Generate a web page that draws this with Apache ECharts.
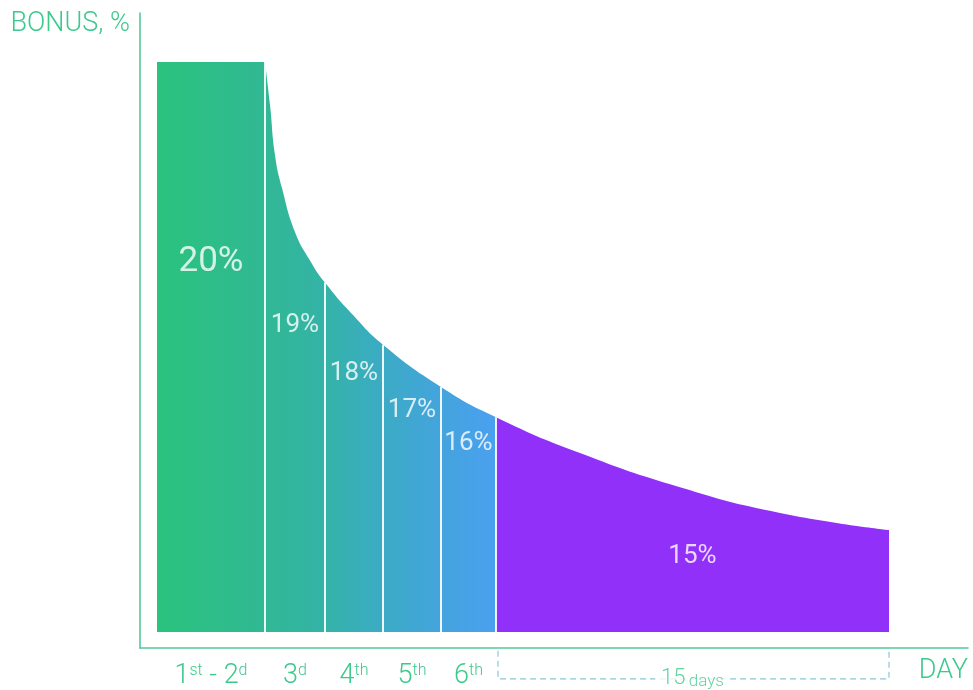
<!DOCTYPE html>
<html><head><meta charset="utf-8">
<script src="https://cdn.jsdelivr.net/npm/echarts@6/dist/echarts.min.js"></script>
<style>html,body{margin:0;padding:0;background:#fff}#c{width:973px;height:690px}</style>
</head><body><div id="c"></div>
<script>
// ---- data ----
const dayLabels = ['{n|1}{s|st}{n| - 2}{s|d}', '{n|3}{s|d}', '{n|4}{s|th}', '{n|5}{s|th}', '{n|6}{s|th}'];
const bonusLabels = ['20%', '19%', '18%', '17%', '16%', '15%'];
const segmentEdges = [17, 125, 185, 243, 301, 356, 749];           // position axis units
const firstBlockHeight = 100;
const curveX = [125, 130, 135, 142, 155, 170, 185, 213, 243, 301, 356, 440, 540, 640, 749];
const curveY = [100, 92.5, 83.7, 77.9, 70.2, 65.2, 61.3, 55.6, 50.4, 43.0, 37.7, 31.4, 25.4, 20.9, 17.9];
const bonusLabelY = [64.8, 53.7, 45.3, 38.8, 33.0, 13.2];
const edgeColors = ['#2ac37d', '#31b894', '#34b3a8', '#3babc5', '#44a4dd', '#4aa0ef'];
const lastColor = '#9130f9';
const spanText = ['15', 'days'];
const axisNameY = 'BONUS, %';
const axisNameX = 'DAY';

// ---- build ----
const green = '#3cc98c';
const axisColor = '#55c99a';
const font = 'Roboto, "Noto Sans", sans-serif';
const e0 = segmentEdges[1], eN = segmentEdges[segmentEdges.length - 1];
const centers = [];
for (let i = 0; i < segmentEdges.length - 1; i++) centers.push((segmentEdges[i] + segmentEdges[i + 1]) / 2);

const stops = [];
for (let i = 1; i <= 5; i++) stops.push({ offset: (segmentEdges[i] - e0) / (eN - e0), color: edgeColors[i] });
stops.push({ offset: (segmentEdges[5] - e0) / (eN - e0), color: lastColor });
stops.push({ offset: 1, color: lastColor });

const separators = [];
for (let i = 1; i <= 5; i++) {
  const idx = curveX.indexOf(segmentEdges[i]);
  separators.push([segmentEdges[i], curveY[idx]]);
}

const bracketTop = -3.3, bracketBottom = -8.2;

const option = {
  animation: false,
  title: {
    text: axisNameX, right: 5, top: 658, padding: 0,
    textStyle: { color: green, fontSize: 27, fontFamily: font, fontWeight: 300 }
  },
  grid: { left: 140, right: 5, top: 13, bottom: 42 },
  xAxis: {
    type: 'value', min: 0, max: 828,
    axisLine: { show: true, onZero: false, lineStyle: { color: axisColor, width: 1.6 } },
    axisTick: { show: false }, splitLine: { show: false },
    axisLabel: {
      show: true, customValues: centers.slice(0, 5), margin: 15,
      formatter: function (v) {
        const i = centers.findIndex(c => Math.abs(c - v) < 0.01);
        return i >= 0 ? dayLabels[i] : '';
      },
      rich: {
        n: { fontSize: 27, color: green, fontFamily: font, fontWeight: 300 },
        s: { fontSize: 16, color: green, fontFamily: font, fontWeight: 300, verticalAlign: 'top' }
      }
    }
  },
  yAxis: {
    type: 'value', min: -2.8, max: 108.6,
    axisLine: { show: true, onZero: false, lineStyle: { color: axisColor, width: 1.6 } },
    axisTick: { show: false }, axisLabel: { show: false }, splitLine: { show: false },
    name: axisNameY, nameLocation: 'end', nameGap: 2,
    nameTextStyle: { color: green, fontSize: 27, fontFamily: font, fontWeight: 300, align: 'right', verticalAlign: 'top', padding: [0, 10, 0, 0] }
  },
  series: [
    {
      type: 'line', silent: true, showSymbol: false, symbol: 'none', z: 2,
      data: [[segmentEdges[0], firstBlockHeight], [segmentEdges[1], firstBlockHeight]],
      lineStyle: { width: 0 },
      areaStyle: { opacity: 1, origin: 'auto', color: new echarts.graphic.LinearGradient(0, 0, 1, 0, [{ offset: 0, color: edgeColors[0] }, { offset: 1, color: edgeColors[1] }]) }
    },
    {
      type: 'line', silent: true, showSymbol: false, symbol: 'none', smooth: 0.5, z: 2,
      data: curveX.map((x, i) => [x, curveY[i]]),
      lineStyle: { width: 0 },
      areaStyle: { opacity: 1, origin: 'auto', color: new echarts.graphic.LinearGradient(0, 0, 1, 0, stops) }
    },
    {
      type: 'custom', silent: true, z: 10,
      data: separators,
      renderItem: function (params, api) {
        const p0 = api.coord([api.value(0), 0]);
        const p1 = api.coord([api.value(0), api.value(1)]);
        return { type: 'line', shape: { x1: p0[0], y1: p0[1], x2: p1[0], y2: p1[1] }, style: { stroke: '#ffffff', lineWidth: 1.8 } };
      }
    },
    {
      type: 'scatter', silent: true, symbolSize: 0, z: 11,
      data: centers.map((c, i) => ({
        value: [c, bonusLabelY[i]],
        label: { show: true, position: 'inside', formatter: bonusLabels[i], color: '#fff', fontFamily: font, fontWeight: 'normal', fontSize: i === 0 ? 35 : 26 }
      }))
    },
    {
      type: 'line', silent: true, showSymbol: false, symbol: 'none', clip: false, z: 5,
      data: [[segmentEdges[5] + 2, bracketTop], [segmentEdges[5] + 2, bracketBottom], [eN, bracketBottom], [eN, bracketTop]],
      lineStyle: { color: '#8cc6d6', width: 1.2, type: [6, 4] }
    },
    {
      type: 'scatter', silent: true, symbolSize: 0, clip: false, z: 12,
      data: [{
        value: [centers[5], bracketBottom],
        label: {
          show: true, position: 'inside', backgroundColor: '#fff', padding: [0, 6],
          formatter: '{a|' + spanText[0] + '} {b|' + spanText[1] + '}',
          rich: {
            a: { fontSize: 22, color: green, fontFamily: font, fontWeight: 300, verticalAlign: 'bottom' },
            b: { fontSize: 17, color: green, fontFamily: font, fontWeight: 300, verticalAlign: 'bottom' }
          }
        }
      }]
    }
  ]
};
const chart = echarts.init(document.getElementById('c'), null, { renderer: 'canvas' });
chart.setOption(option);
</script>
</body></html>
